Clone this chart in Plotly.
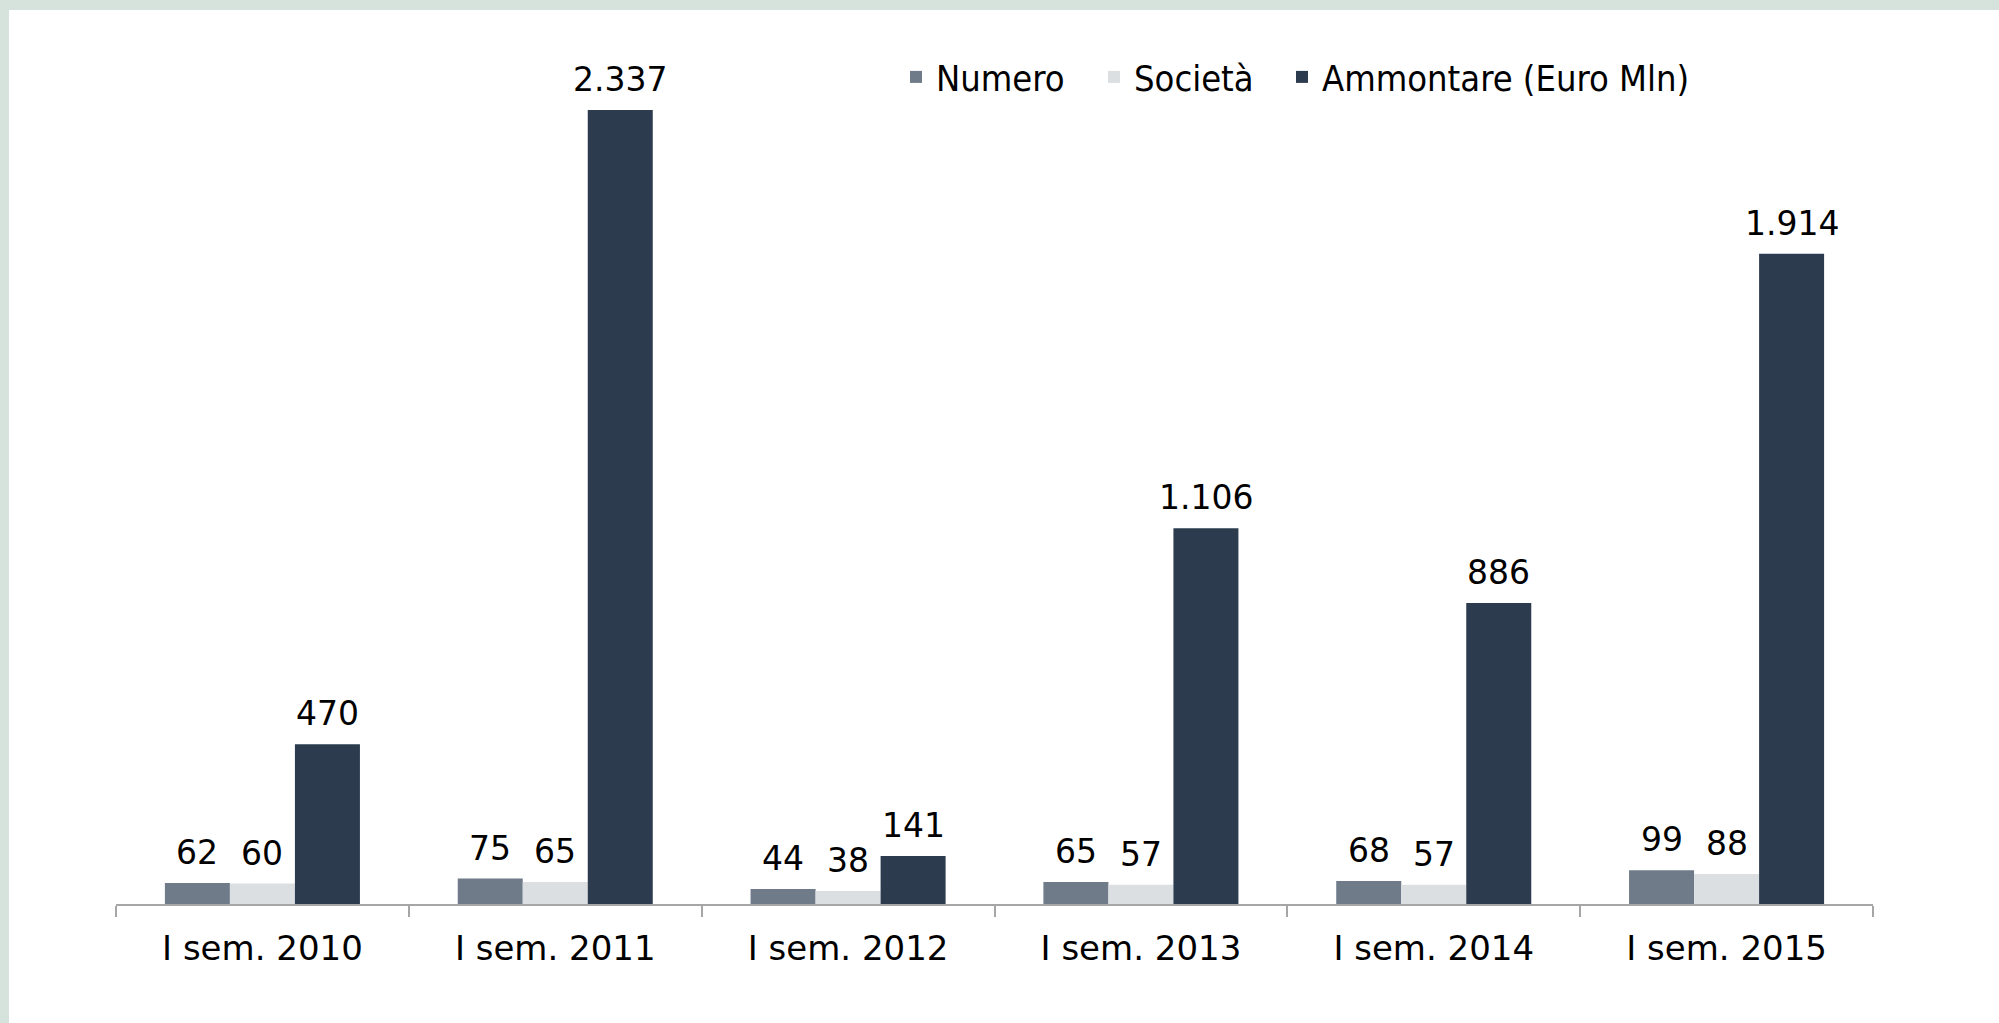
import plotly.graph_objects as go

categories = ["I sem. 2010", "I sem. 2011", "I sem. 2012", "I sem. 2013", "I sem. 2014", "I sem. 2015"]
numero = [62, 75, 44, 65, 68, 99]
societa = [60, 65, 38, 57, 57, 88]
ammontare = [470, 2337, 141, 1106, 886, 1914]
series_names = ["Numero", "Società", "Ammontare (Euro Mln)"]
colors = ["#6f7b88", "#dcdfe2", "#2c3c4e"]

W, H = 1999, 1023
ML, MR, MT, MB = 116, 126, 60, 119
PW, PH = W - ML - MR, H - MT - MB
FONT = "DejaVu Sans"
LEGEND_FONT = "DejaVu Sans Condensed, DejaVu Sans"


def fmt(v):
    return f"{v:,}".replace(",", ".")


def px_x(p):
    return (p - ML) / PW


def px_y(p):
    return (H - MB - p) / PH


fig = go.Figure()
series = [numero, societa, ammontare]
legend_ids = ["legend", "legend2", "legend3"]
legend_px = [896, 1094, 1282]
for name, vals, col, lid in zip(series_names, series, colors, legend_ids):
    fig.add_trace(go.Bar(
        x=categories, y=vals, name=name,
        marker=dict(color=col, line=dict(width=0)),
        hoverinfo="skip", legend=lid,
    ))

bargap = 0.334
bw = (1 - bargap) / 3
annotations = []
for k, vals in enumerate(series):
    off = (k - 1) * bw
    for i, v in enumerate(vals):
        annotations.append(dict(
            x=i + off, y=v, xref="x", yref="y", text=fmt(v),
            showarrow=False, yanchor="bottom", xanchor="center", yshift=9,
            font=dict(family=FONT, size=33, color="#000000"),
        ))

shapes = [
    dict(type="rect", xref="paper", yref="paper", layer="below",
         x0=px_x(0), x1=px_x(W), y0=px_y(0), y1=px_y(10),
         fillcolor="#d6e2dc", line=dict(width=0)),
    dict(type="rect", xref="paper", yref="paper", layer="below",
         x0=px_x(0), x1=px_x(9), y0=px_y(0), y1=px_y(H),
         fillcolor="#d6e2dc", line=dict(width=0)),
]

legend_common = dict(
    orientation="h", xanchor="left", yanchor="middle",
    font=dict(family=LEGEND_FONT, size=36, color="#000000"),
    bgcolor="rgba(0,0,0,0)",
)
legends = {}
for lid, lx in zip(legend_ids, legend_px):
    legends[lid] = dict(legend_common, x=px_x(lx), y=px_y(77))

fig.update_layout(
    width=W, height=H,
    margin=dict(l=ML, r=MR, t=MT, b=MB),
    paper_bgcolor="#ffffff", plot_bgcolor="#ffffff",
    barmode="group", bargap=bargap, bargroupgap=0,
    font=dict(family=FONT, size=33, color="#000000"),
    showlegend=True,
    xaxis=dict(
        type="category", range=[-0.5, 5.5],
        showline=True, linecolor="#a6a6a6", linewidth=2,
        ticks="outside", tickson="boundaries", ticklen=11, tickwidth=2, tickcolor="#a6a6a6",
        showgrid=False, zeroline=False, ticklabelstandoff=13,
        tickfont=dict(family=FONT, size=34, color="#000000"),
        fixedrange=True,
    ),
    yaxis=dict(
        range=[0, 2484], visible=False, showgrid=False, zeroline=False, fixedrange=True,
    ),
    annotations=annotations,
    shapes=shapes,
    **legends,
)

fig.write_html(
    "out.html",
    config={"displayModeBar": False},
    post_script="document.body.style.margin='0';document.body.style.overflow='hidden';",
)
